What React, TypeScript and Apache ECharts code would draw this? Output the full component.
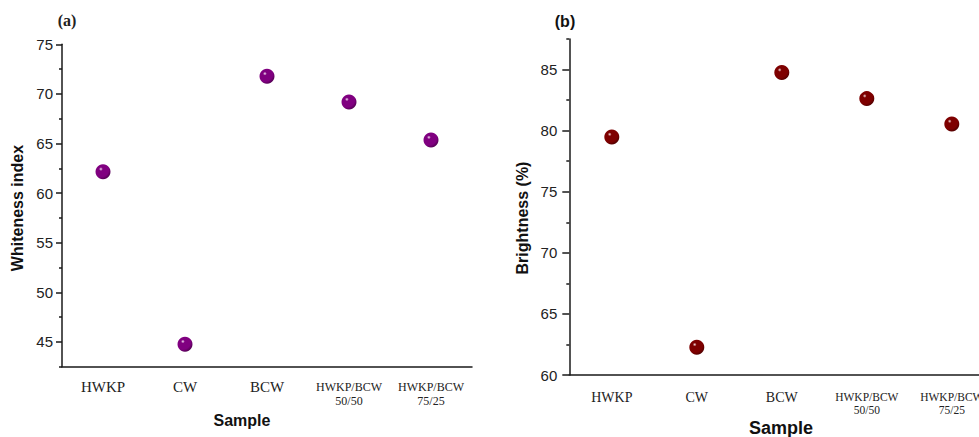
import React, { useEffect, useRef } from "react";
import * as echarts from "echarts";

const categories = ["HWKP", "CW", "BCW", "HWKP/BCW\n50/50", "HWKP/BCW\n75/25"];
const whiteness = [62.15, 44.77, 71.77, 69.18, 65.35];
const brightness = [79.48, 62.27, 84.75, 82.62, 80.55];
const whitenessTicks = [45, 50, 55, 60, 65, 70, 75];
const whitenessMinor = [42.5, 47.5, 52.5, 57.5, 62.5, 67.5, 72.5];
const brightnessTicks = [60, 65, 70, 75, 80, 85];
const brightnessMinor = [62.5, 67.5, 72.5, 77.5, 82.5, 87.5];

const AXIS = "#1a1a1a";

function sphere(base: string, dark: string, light: string) {
  return {
    type: "radial",
    x: 0.36,
    y: 0.32,
    r: 0.8,
    colorStops: [
      { offset: 0, color: light },
      { offset: 0.16, color: base },
      { offset: 0.65, color: base },
      { offset: 1, color: dark },
    ],
  };
}

function catData(bigSize: number, smallSize: number, lh: number) {
  return categories.map((c) =>
    c.includes("\n")
      ? { value: c, textStyle: { fontSize: smallSize, lineHeight: lh } }
      : { value: c, textStyle: { fontSize: bigSize } }
  );
}

export default function App() {
  const ref = useRef<HTMLDivElement>(null);
  useEffect(() => {
    document.body.style.margin = "0";
    if (!ref.current) return;
    const chart = echarts.init(ref.current, null, { renderer: "svg" });
    const serif = "'Liberation Serif', 'Times New Roman', serif";
    const sans = "'Liberation Sans', Arial, sans-serif";
    const xMajor = (grid: number, big: number, small: number, lh: number, len: number, margin: number) => ({
      type: "category",
      gridIndex: grid,
      data: catData(big, small, lh),
      boundaryGap: true,
      position: "bottom",
      axisLine: { lineStyle: { color: AXIS, width: 1.5 } },
      axisTick: { alignWithLabel: true, length: len, lineStyle: { color: AXIS, width: 1.5 } },
      axisLabel: { interval: 0, color: "#222", fontFamily: serif, margin, fontSize: big, hideOverlap: false },
      splitLine: { show: false },
    });
    const xMinor = (grid: number, len: number) => ({
      type: "category",
      gridIndex: grid,
      data: categories,
      boundaryGap: true,
      position: "bottom",
      axisLine: { show: false },
      axisTick: { alignWithLabel: false, interval: 0, length: len, lineStyle: { color: AXIS, width: 1.5 } },
      axisLabel: { show: false },
      splitLine: { show: false },
    });
    const yMajor = (grid: number, min: number, max: number, ticks: number[], len: number, margin: number) => ({
      type: "value",
      gridIndex: grid,
      min,
      max,
      position: "left",
      axisLine: { show: true, lineStyle: { color: AXIS, width: 1.5 } },
      axisTick: { show: true, length: len, customValues: ticks, lineStyle: { color: AXIS, width: 1.5 } },
      axisLabel: { customValues: ticks, color: "#222", fontFamily: sans, fontSize: 15, margin },
      splitLine: { show: false },
    });
    const yMinor = (grid: number, min: number, max: number, ticks: number[], len: number) => ({
      type: "value",
      gridIndex: grid,
      min,
      max,
      position: "left",
      axisLine: { show: false },
      axisTick: { show: true, length: len, customValues: ticks, lineStyle: { color: AXIS, width: 1.5 } },
      axisLabel: { show: false, customValues: ticks },
      splitLine: { show: false },
    });

    chart.setOption({
      animation: false,
      backgroundColor: "#ffffff",
      grid: [
        { left: 62, top: 44.3, width: 410, height: 322.4, outerBoundsMode: "none", containLabel: false },
        { left: 569.3, top: 39, width: 425, height: 336, outerBoundsMode: "none", containLabel: false },
      ],
      xAxis: [
        xMajor(0, 15, 12, 14, 7, 13),
        xMinor(0, 4),
        xMajor(1, 14, 11.5, 13, 8, 15),
        xMinor(1, 4),
      ],
      yAxis: [
        yMajor(0, 42.5, 75, whitenessTicks, 6, 9),
        yMinor(0, 42.5, 75, whitenessMinor, 3),
        yMajor(1, 60, 87.5, brightnessTicks, 7, 12),
        yMinor(1, 60, 87.5, brightnessMinor, 3),
      ],
      series: [
        {
          type: "scatter",
          xAxisIndex: 0,
          yAxisIndex: 0,
          data: whiteness,
          symbol: "circle",
          symbolSize: 15,
          itemStyle: { opacity: 1, color: sphere("#800080", "#3e003e", "#f4e0f4") },
        },
        {
          type: "scatter",
          xAxisIndex: 2,
          yAxisIndex: 2,
          data: brightness,
          symbol: "circle",
          symbolSize: 15,
          itemStyle: { opacity: 1, color: sphere("#7e0000", "#3c0000", "#f4dcdc") },
        },
      ],
      graphic: [
        { type: "text", x: 67, y: 20, style: { text: "(a)", font: `bold 16px ${serif}`, fill: "#222", align: "center", verticalAlign: "middle" } },
        { type: "text", x: 565, y: 21, style: { text: "(b)", font: `bold 16px ${sans}`, fill: "#111", align: "center", verticalAlign: "middle" } },
        { type: "text", x: 17, y: 208, rotation: Math.PI / 2, style: { text: "Whiteness index", font: `bold 16px ${sans}`, fill: "#111", align: "center", verticalAlign: "middle" } },
        { type: "text", x: 522, y: 218, rotation: Math.PI / 2, style: { text: "Brightness (%)", font: `bold 16px ${sans}`, fill: "#111", align: "center", verticalAlign: "middle" } },
        { type: "text", x: 242, y: 420, style: { text: "Sample", font: `bold 16px ${sans}`, fill: "#111", align: "center", verticalAlign: "middle" } },
        { type: "text", x: 781, y: 428, style: { text: "Sample", font: `bold 18px ${sans}`, fill: "#111", align: "center", verticalAlign: "middle" } },
      ],
    });
    return () => chart.dispose();
  }, []);
  return <div ref={ref} style={{ width: 979, height: 437 }} />;
}
